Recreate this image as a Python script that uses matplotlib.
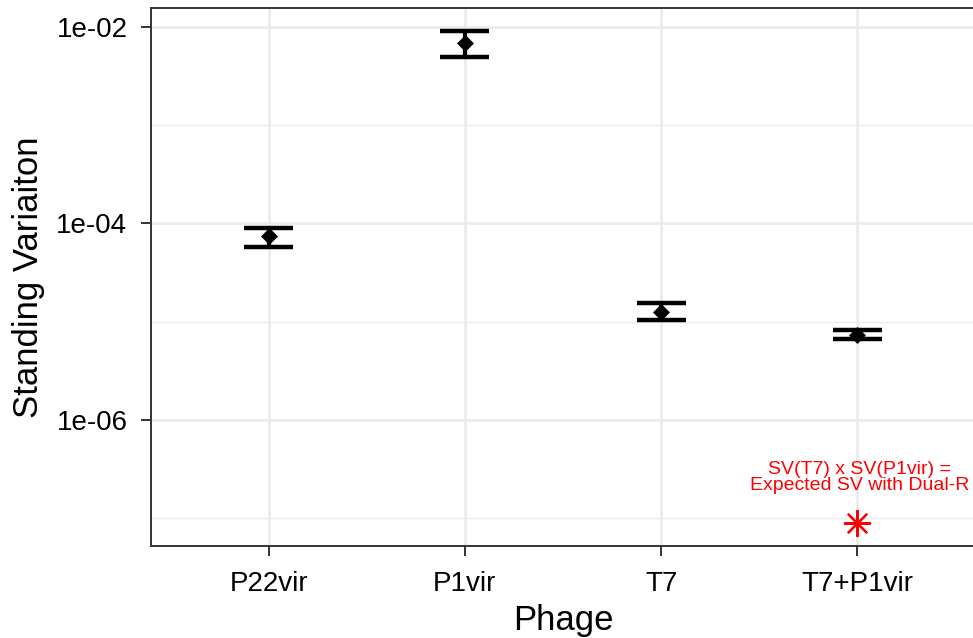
import matplotlib
matplotlib.use("Agg")
import matplotlib.pyplot as plt
import numpy as np
from matplotlib.ticker import FixedLocator, NullFormatter

plt.rcParams['font.family'] = ['Liberation Sans', 'DejaVu Sans']

phages = ["P22vir", "P1vir", "T7", "T7+P1vir"]
sv = [7.4e-5, 6.9e-3, 1.27e-5, 7.4e-6]
sv_lower = [5.8e-5, 4.95e-3, 1.05e-5, 6.7e-6]
sv_upper = [8.9e-5, 9.1e-3, 1.57e-5, 8.3e-6]
expected_sv = 9.0e-8
expected_label = "SV(T7) x SV(P1vir) =\nExpected SV with Dual-R"
y_ticks = [1e-6, 1e-4, 1e-2]
y_tick_labels = ["1e-06", "1e-04", "1e-02"]
y_minor = [1e-7, 1e-5, 1e-3]

fig = plt.figure(figsize=(9.73, 6.38), dpi=100)
ax = fig.add_axes([151/973, 1 - 546/638, (975 - 151)/973, (546 - 8)/638])

x = np.arange(1, len(phages) + 1)
ax.set_yscale('log')
ax.set_ylim(10**-7.282, 10**-1.807)
ax.set_xlim(0.4, len(phages) + 0.6)

# grid
ax.set_axisbelow(True)
ax.yaxis.set_major_locator(FixedLocator(y_ticks))
ax.yaxis.set_minor_locator(FixedLocator(y_minor))
ax.yaxis.set_minor_formatter(NullFormatter())
ax.set_yticklabels(y_tick_labels)
ax.set_xticks(x)
ax.set_xticklabels(phages)
ax.grid(True, which='major', color='#EBEBEB', linewidth=2.0)
ax.grid(True, which='minor', axis='y', color='#EBEBEB', linewidth=1.0)

# error bars
half = 0.125
for xi, lo, hi in zip(x, sv_lower, sv_upper):
    ax.plot([xi, xi], [lo, hi], color='black', lw=3, solid_capstyle='butt', zorder=3)
    ax.plot([xi - half, xi + half], [lo, lo], color='black', lw=3.2, solid_capstyle='butt', zorder=3)
    ax.plot([xi - half, xi + half], [hi, hi], color='black', lw=3.2, solid_capstyle='butt', zorder=3)
ax.scatter(x, sv, marker='D', s=75, color='black', zorder=4, linewidths=0)

# expected point
ax.scatter([4], [expected_sv], marker=(8, 2, 0), s=330, color='red', linewidths=1.6, zorder=4)
ax.text(4.01, 10**-6.585, expected_label, color='red', fontsize=14, ha='center', va='center',
        linespacing=0.9)

for sp in ax.spines.values():
    sp.set_color('#333333')
    sp.set_linewidth(1.4)
ax.tick_params(axis='both', which='major', length=7, width=1.4, color='#333333',
               labelsize=20, labelcolor='black')
ax.tick_params(axis='x', pad=11)
ax.tick_params(axis='y', pad=10)
ax.tick_params(axis='y', which='minor', length=0)

ax.set_xlabel("Phage", fontsize=25, labelpad=5)
ax.set_ylabel("Standing Variaiton", fontsize=25, labelpad=8)

fig.savefig("out.png", dpi=100)
